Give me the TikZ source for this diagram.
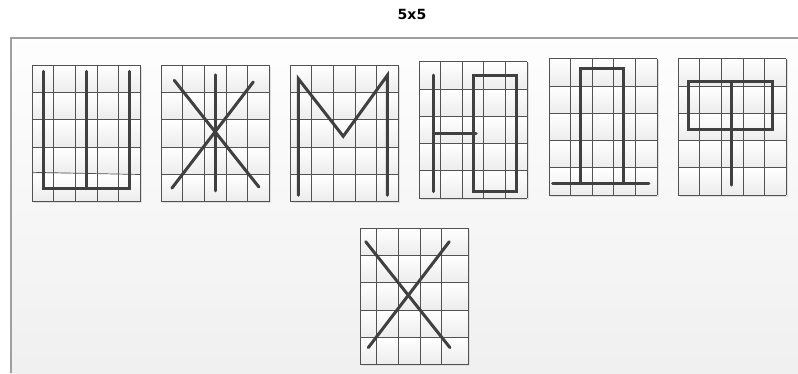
\documentclass[tikz,border=0pt]{standalone}
\usepackage{fontspec}
\newfontfamily\titlefont{DejaVu Sans}
\newcommand\boxgrid[2]{% columns, rows
  \fill[gray!25] (0.07,0.05) rectangle (5.07,5.05);
  \foreach \r in {0,...,4} \shade[top color=white, bottom color=gray!15] (0,\r) rectangle (5,\r+1);
  \foreach \c in {#1} \draw[cellline] (\c,0) -- (\c,5);
  \foreach \r in {#2} \draw[cellline] (0,\r) -- (5,\r);
}
\begin{document}
\begin{tikzpicture}[
  x=1pt, y=-1pt,
  box/.style 2 args={shift={(#1,#2)}, x=21.6pt, y=-27.3pt},
  cellline/.style={draw=black!68, line width=0.95pt},
  stroke/.style={draw=black!75, line width=3pt, line cap=round, line join=miter}
]
\useasboundingbox (0,0) rectangle (798,373);
\node[font=\titlefont\bfseries\fontsize{14}{16}\selectfont] (title) at (412,14) {5x5};

% panel
\shade[top color=gray!1, bottom color=gray!12] (11,38) rectangle (798,373);
\draw[gray!75, line width=1.2pt] (11,373) -- (11,38) -- (798,38);

% first row
\begin{scope}[box={32.3}{65.3}]
  \boxgrid{0,...,5}{0,1,2,3,5}
  \draw[cellline, line width=0.7pt] (0,3.92) -- (5,4);
  \draw[stroke] (0.5,0.22) -- (0.5,4.5) -- (4.5,4.5) -- (4.5,0.22);
  \draw[stroke] (2.49,0.22) -- (2.49,4.5);
\end{scope}
\begin{scope}[box={161.3}{65.3}]
  \boxgrid{0,...,5}{0,...,5}
  \draw[stroke] (0.6,0.55) -- (4.52,4.46);
  \draw[stroke] (4.26,0.61) -- (0.49,4.5);
  \draw[stroke] (2.49,0.35) -- (2.49,4.6);
\end{scope}
\begin{scope}[box={290.3}{65.3}]
  \boxgrid{0,...,5}{0,...,5}
  \draw[stroke] (0.37,4.76) -- (0.37,0.49) -- (2.45,2.6) -- (4.49,0.37) -- (4.49,4.76);
\end{scope}
\begin{scope}[box={419}{61.7}]
  \boxgrid{0,...,5}{0,...,5}
  \draw[stroke] (0.66,0.49) -- (0.66,4.76);
  \draw[stroke] (0.66,2.62) -- (2.64,2.62);
  \draw[stroke] (2.51,0.49) rectangle (4.52,4.76);
\end{scope}
\begin{scope}[box={549}{58.7}]
  \boxgrid{0,...,5}{0,...,5}
  \draw[stroke] (1.48,4.58) -- (1.48,0.37) -- (3.47,0.37) -- (3.47,4.58);
  \draw[stroke] (0.17,4.58) -- (4.62,4.58);
\end{scope}
\begin{scope}[box={678.3}{58.7}]
  \boxgrid{0,...,5}{0,...,5}
  \draw[stroke] (0.46,0.85) rectangle (4.35,2.6);
  \draw[stroke] (2.47,0.85) -- (2.47,4.63);
\end{scope}

% second row
\begin{scope}[box={360.3}{228.3}]
  \boxgrid{0,0.755,1.77,2.78,3.76,5.01}{0,...,5}
  \draw[stroke] (0.25,0.49) -- (4.15,4.37);
  \draw[stroke] (4.12,0.49) -- (0.37,4.37);
\end{scope}
\end{tikzpicture}
\end{document}
